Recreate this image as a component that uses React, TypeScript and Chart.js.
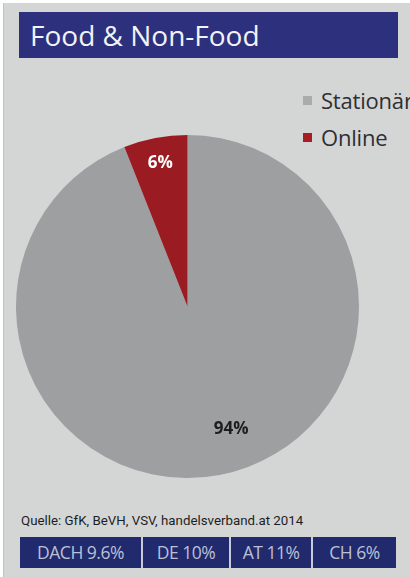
import React, { useEffect, useRef } from "react";
import { Chart, registerables } from "chart.js";

Chart.register(...registerables);

const title = "Food & Non-Food";
const categories = ["Stationär", "Online"];
const shares = [94, 6];
const sliceColors = ["#9d9fa1", "#9a1b21"];
const legendColors = ["#a9abad", "#a81d22"];
const labelColors = ["#1e1e1e", "#ffffff"];
const sourceText = "Quelle: GfK, BeVH, VSV, handelsverband.at 2014";
const regions = ["DACH", "DE", "AT", "CH"];
const regionShares = [9.6, 10, 11, 6];

const labelRadius = [0.76, 0.85];
const labelAngleShift = [-8.8, 0];
const boxWidths = [121, 88, 82, 85];

const FONT = "'Open Sans', 'Noto Sans', sans-serif";

const sliceLabelPlugin = {
  id: "sliceLabels",
  afterDatasetsDraw(chart: any) {
    const ctx = chart.ctx;
    const meta = chart.getDatasetMeta(0);
    meta.data.forEach((arc: any, i: number) => {
      const { x, y, startAngle, endAngle, outerRadius } = arc.getProps(
        ["x", "y", "startAngle", "endAngle", "outerRadius"],
        true
      );
      const mid = (startAngle + endAngle) / 2 + (labelAngleShift[i] * Math.PI) / 180;
      const r = outerRadius * labelRadius[i];
      const px = x + Math.cos(mid) * r;
      const py = y + Math.sin(mid) * r;
      ctx.save();
      ctx.font = `bold 17px ${FONT}`;
      ctx.fillStyle = labelColors[i];
      ctx.textAlign = "center";
      ctx.textBaseline = "middle";
      ctx.fillText(`${shares[i]}%`, px, py);
      ctx.restore();
    });
  },
};

function PieChart() {
  const ref = useRef<HTMLCanvasElement | null>(null);
  useEffect(() => {
    if (!ref.current) return;
    const chart = new Chart(ref.current, {
      type: "pie",
      data: {
        labels: categories,
        datasets: [
          {
            data: shares,
            backgroundColor: sliceColors,
            borderWidth: 0,
          },
        ],
      },
      options: {
        animation: false,
        responsive: false,
        maintainAspectRatio: false,
        layout: { padding: 0 },
        plugins: {
          legend: { display: false },
          tooltip: { enabled: false },
        },
      },
      plugins: [sliceLabelPlugin],
    });
    return () => chart.destroy();
  }, []);
  return (
    <canvas
      ref={ref}
      width={343}
      height={343}
      style={{ position: "absolute", left: 16, top: 135, width: 343, height: 343 }}
    />
  );
}

export default function App() {
  return (
    <div
      style={{
        position: "fixed",
        left: 0,
        top: 0,
        width: 410,
        height: 577,
        background: "#ffffff",
        overflow: "hidden",
        fontFamily: FONT,
      }}
    >
      <div
        style={{
          position: "absolute",
          left: 3,
          top: 3,
          width: 407,
          height: 574,
          background: "#d4d6d6",
          borderLeft: "1px solid #c2c4c4",
        }}
      />
      <div
        style={{
          position: "absolute",
          left: 19,
          top: 12,
          width: 379,
          height: 46,
          background: "#2d307c",
          color: "#f2f2f8",
          fontSize: 28,
          lineHeight: "46px",
          paddingLeft: 11,
          boxSizing: "border-box",
          whiteSpace: "nowrap",
        }}
      >
        {title}
      </div>
      {categories.map((c, i) => (
        <div
          key={c}
          style={{
            position: "absolute",
            left: 303,
            top: [100, 137][i] - 14,
            height: 28,
            display: "flex",
            alignItems: "center",
            whiteSpace: "nowrap",
            fontSize: 22,
            letterSpacing: -0.2,
            color: "#2e2e33",
          }}
        >
          <span
            style={{
              display: "inline-block",
              width: 9,
              height: 9,
              background: legendColors[i],
              marginRight: 9,
            }}
          />
          {c}
        </div>
      ))}
      <PieChart />
      <div
        style={{
          position: "absolute",
          left: 21,
          top: 510,
          fontSize: 13.3,
          color: "#1e1e1e",
          whiteSpace: "nowrap",
          fontFamily: "Roboto, 'Open Sans', sans-serif",
          lineHeight: "22px",
        }}
      >
        {sourceText}
      </div>
      <div
        style={{
          position: "absolute",
          left: 20,
          top: 537,
          height: 31,
          display: "flex",
        }}
      >
        {regions.map((r, i) => (
          <div
            key={r}
            style={{
              width: boxWidths[i],
              height: 31,
              boxSizing: "border-box",
              background: "#202a6c",
              borderLeft: i > 0 ? "2px solid #c9ccd6" : "none",
              color: "#bcc0d6",
              fontSize: 17.5,
              lineHeight: "31px",
              textAlign: "center",
              whiteSpace: "nowrap",
              letterSpacing: -0.5,
            }}
          >
            {`${r} ${String(regionShares[i])}%`}
          </div>
        ))}
      </div>
    </div>
  );
}
